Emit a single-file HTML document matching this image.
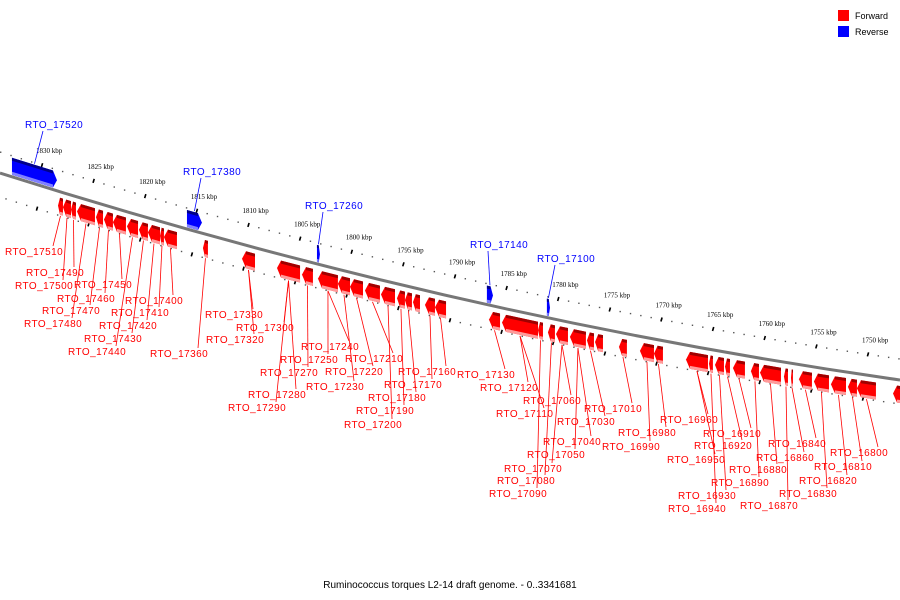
<!DOCTYPE html>
<html><head><meta charset="utf-8"><style>
html,body{margin:0;padding:0;background:#fff;}
svg{display:block;font-family:"Liberation Sans","DejaVu Sans",sans-serif;}
</style></head><body>
<svg id="map" width="900" height="600" viewBox="0 0 900 600">
<g id="ticks"></g>
<path id="backbone" d="M0,173 Q450,316 900,380" fill="none" stroke="#777" stroke-width="3"/>
<g id="genes"></g>
<g id="labels"></g>
<g>
<rect x="838" y="10" width="11" height="11" fill="#ff0000"/>
<text x="855" y="19" font-size="9" fill="#000">Forward</text>
<rect x="838" y="26" width="11" height="11" fill="#0000ff"/>
<text x="855" y="35" font-size="9" fill="#000">Reverse</text>
</g>
<text x="450" y="588" font-size="10" text-anchor="middle" fill="#000">Ruminococcus torques L2-14 draft genome. - 0..3341681</text>
</svg>
<script>
const fwdLeft=[1828.45,1827.97,1827.19,1826.61,1824.77,1824.0,1823.13,1821.77,1820.61,1819.74,1818.57,1818.19,1814.41,1810.63,1807.24,1804.82,1803.27,1801.34,1800.17,1798.72,1797.17,1795.62,1794.85,1794.07,1792.91,1791.94,1786.71,1785.45,1781.96,1781.0,1780.22,1778.87,1777.22,1776.44,1774.12,1772.09,1770.73,1767.63,1765.4,1764.82,1763.85,1763.08,1761.34,1760.46,1758.14,1757.46,1756.69,1755.24,1753.59,1751.94,1751.07,1747.58];
const fwdRight=[1827.97,1827.19,1826.71,1824.87,1824.09,1823.13,1821.87,1820.70,1819.74,1818.57,1818.19,1816.93,1813.93,1809.37,1805.01,1803.76,1801.34,1800.17,1798.91,1797.27,1795.81,1794.85,1794.17,1793.39,1791.94,1790.87,1785.64,1781.96,1781.48,1780.32,1779.06,1777.32,1776.54,1775.67,1773.35,1770.73,1769.86,1765.5,1765.02,1763.95,1763.37,1761.92,1760.56,1758.43,1757.75,1757.27,1755.43,1753.78,1752.13,1751.07,1749.23,1746.42];
const revLeft=[1832.91,1815.96,1803.37,1786.91,1781.1];
const revRight=[1828.55,1814.51,1803.08,1786.32,1780.8];
const revNames=["RTO_17520","RTO_17380","RTO_17260","RTO_17140","RTO_17100"];
const revLabelPos=[[25,128],[183,175],[305,209],[470,248],[537,262]];
const fwdNames=["RTO_17510","RTO_17500","RTO_17490","RTO_17480","RTO_17470","RTO_17460","RTO_17450","RTO_17440","RTO_17430","RTO_17420","RTO_17410","RTO_17400","RTO_17360","RTO_17330","RTO_17320","RTO_17300","RTO_17290","RTO_17280","RTO_17270","RTO_17250","RTO_17240","RTO_17230","RTO_17220","RTO_17210","RTO_17200","RTO_17190","RTO_17180","RTO_17170","RTO_17160","RTO_17130","RTO_17120","RTO_17110","RTO_17090","RTO_17080","RTO_17070","RTO_17060","RTO_17050","RTO_17040","RTO_17030","RTO_17010","RTO_16990","RTO_16980","RTO_16960","RTO_16950","RTO_16940","RTO_16930","RTO_16920","RTO_16910","RTO_16890","RTO_16880","RTO_16870","RTO_16860","RTO_16840","RTO_16830","RTO_16820","RTO_16810","RTO_16800"];
const fwdGene=[0,1,2,3,4,5,6,7,8,9,10,11,12,13,13,14,14,14,15,16,16,17,18,19,20,21,22,24,25,26,27,27,28,29,30,30,31,31,32,34,35,36,37,37,38,39,40,41,42,43,44,45,46,47,48,49,50];
const fwdLabelPos=[[5,255],[15,289],[26,276],[24,327],[42,314],[57,302],[74,288],[68,355],[84,342],[99,329],[111,316],[125,304],[150,357],[205,318],[206,343],[236,331],[228,411],[248,398],[260,376],[280,363],[301,350],[306,390],[325,375],[345,362],[344,428],[356,414],[368,401],[384,388],[398,375],[457,378],[480,391],[496,417],[489,497],[497,484],[504,472],[523,404],[527,458],[543,445],[557,425],[584,412],[602,450],[618,436],[660,423],[667,463],[668,512],[678,499],[694,449],[703,437],[711,486],[729,473],[740,509],[756,461],[768,447],[779,497],[799,484],[814,470],[830,456]];
const tickMajor=[1830,1825,1820,1815,1810,1805,1800,1795,1790,1785,1780,1775,1770,1765,1760,1755,1750];

const NS="http://www.w3.org/2000/svg";
function xScale(k){return 42+(1830-k)*10.325;}
function curve(x){const t=x/900;const y=(1-t)*(1-t)*173+2*t*(1-t)*316+t*t*380;
 const dy=2*(1-t)*(316-173)+2*t*(380-316);const dx=900;const L=Math.hypot(dx,dy);
 return {y:y,nx:dy/L*0,ny:1};}
function pt(x,off){const c=curve(x);return [x,c.y+off];}
function mk(tag,attrs,parent){const e=document.createElementNS(NS,tag);for(const k in attrs)e.setAttribute(k,attrs[k]);parent.appendChild(e);return e;}
const gT=document.getElementById('ticks'),gG=document.getElementById('genes'),gL=document.getElementById('labels');

for(let k=1836;k>=1740;k--){
 const x=xScale(k); if(x<-5||x>905)continue;
 [[-21,'upper',0],[24,'lower',-5]].forEach(([o,n,sh])=>{
  const p=pt(x+sh,o);
  const d=mk('rect',{x:p[0]-0.7,y:p[1]-0.7,width:1.4,height:1.4,fill:'#555'},gT);
  
  
 });
}
tickMajor.forEach(k=>{
 const x=xScale(k);
 [[-21,0],[24,-5]].forEach(([o,sh])=>{
  const a=pt(x+sh,o-2),b=pt(x+sh,o+2);
  const l=mk('line',{x1:a[0]+0.6,y1:a[1],x2:b[0]-0.6,y2:b[1],stroke:'#000','stroke-width':1.6},gT);
  
  
 });
 const p=pt(x,-33);
 const t=mk('text',{x:p[0]-6,y:p[1],'font-size':7,'font-family':'Liberation Serif,serif',fill:'#000'},gT);
 t.textContent=k+' kbp';
 
 
});

function gene(l,r,o1,o2,fwd,i){
 const x1=xScale(l),x2=xScale(r);const tip=Math.min(4,(x2-x1)*0.4);
 const g=mk('g',{},gG);
 
 
 const mid=(o1+o2)/2;
 let pts;
 if(fwd) pts=[pt(x1+tip,o1),pt(x2,o1),pt(x2,o2),pt(x1+tip,o2),pt(x1,mid)];
 else pts=[pt(x1,o1),pt(x2-tip,o1),pt(x2,mid),pt(x2-tip,o2),pt(x1,o2)];
 const main=fwd?'#ff0000':'#0000ff',dark=fwd?'#a00000':'#00008a',light=fwd?'#ff9a9a':'#8080ff';
 mk('polygon',{points:pts.map(p=>p.join(',')).join(' '),fill:main},g);
 const xa=x1+(fwd?tip:0),xb=x2-(fwd?0:tip);
 const a=pt(xa,o1),b=pt(xb,o1),c=pt(xb,o1+3),d=pt(xa,o1+3);
 mk('polygon',{points:[a,b,c,d].map(p=>p.join(',')).join(' '),fill:dark},g);
 const e=pt(xa,o2-3),f=pt(xb,o2-3),h=pt(xb,o2),j=pt(xa,o2);
 mk('polygon',{points:[e,f,h,j].map(p=>p.join(',')).join(' '),fill:light},g);
}
fwdLeft.forEach((l,i)=>gene(l,fwdRight[i],6,23,true,i));
revLeft.forEach((l,i)=>gene(l,revRight[i],-19,-2,false,i));

function label(name,gx,off,lx,ly,color,above){
 const p=pt(gx,off);
 const ax=above?lx+18:lx+48, ay=above?ly+3:ly-9;
 const ln=mk('line',{x1:p[0],y1:p[1],x2:ax,y2:ay,stroke:color,'stroke-width':0.8},gL);
 
 
 const t=mk('text',{x:lx,y:ly,'font-size':10,fill:color,'letter-spacing':'0.45'},gL);
 t.textContent=name;
 
 
}
fwdNames.forEach((n,i)=>{const gi=fwdGene[i];const gx=(xScale(fwdLeft[gi])+xScale(fwdRight[gi]))/2;
 label(n,gx,24,fwdLabelPos[i][0],fwdLabelPos[i][1],'#ff0000',false);});
revNames.forEach((n,i)=>{const gx=(xScale(revLeft[i])+xScale(revRight[i]))/2;
 label(n,gx,-20,revLabelPos[i][0],revLabelPos[i][1],'#0000ff',true);});
</script>
</body></html>
